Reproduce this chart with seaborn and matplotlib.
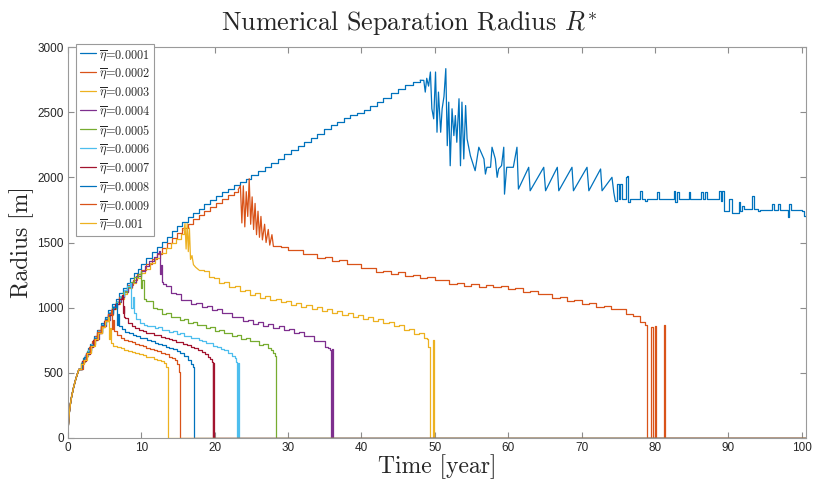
import matplotlib
matplotlib.use("Agg")
import numpy as np
import matplotlib.pyplot as plt
import seaborn as sns

# Separation radius R* (m) against time (years), one series per eta-bar value.
# Every series is stored as (time, radius) samples, split into pieces:
# "rise"/"fall"/"tail" pieces are stair-stepped, "spikes" pieces are drawn point to point.
eta_labels = ["0.0001", "0.0002", "0.0003", "0.0004", "0.0005",
              "0.0006", "0.0007", "0.0008", "0.0009", "0.001"]

line_colors = ["#0072BD", "#D95319", "#EDB120", "#7E2F8E", "#77AC30",
               "#4DBEEE", "#A2142F", "#0072BD", "#D95319", "#EDB120"]

# common initial growth shared by all runs
start_pts = [(0, 0), (0.02, 55), (0.05, 95), (0.1, 140), (0.2, 205), (0.35, 270), (0.5, 320),
             (0.75, 385), (1.0, 440), (1.25, 487), (1.5, 527)]

eta_0001_rise = [
    (1.5, 527), (1.8, 575), (2.1, 615), (2.4, 655), (2.7, 690), (3.0, 725), (3.5, 780), (4.0, 830),
    (4.5, 880), (5.0, 930), (5.5, 980), (6.0, 1025), (6.5, 1070), (7.0, 1110), (7.5, 1150),
    (8.0, 1190), (8.5, 1230), (9.0, 1265), (9.5, 1300), (10.0, 1335), (10.7, 1380), (11.4, 1425),
    (12.1, 1465), (12.8, 1505), (13.5, 1545), (14.2, 1585), (14.9, 1625), (15.6, 1660), (16.3, 1695),
    (17.0, 1725), (17.8, 1760), (18.6, 1795), (19.4, 1825), (20.2, 1855), (21.0, 1885), (21.8, 1910),
    (22.6, 1940), (23.4, 1965), (24.2, 1990), (25.0, 2020), (25.9, 2050), (26.8, 2080), (27.7, 2110),
    (28.6, 2140), (29.5, 2180), (30.4, 2210), (31.3, 2240), (32.2, 2270), (33.1, 2300), (34.0, 2335),
    (34.9, 2370), (35.8, 2400), (36.7, 2428), (37.6, 2455), (38.5, 2480), (39.4, 2495), (40.3, 2515),
    (41.2, 2545), (42.1, 2580), (43.0, 2612), (44.0, 2645), (45.0, 2680), (46.0, 2705), (47.0, 2730),
    (48.0, 2745),
]
eta_0001_spikes = [
    (48.0, 2745), (48.5, 2744), (48.7, 2654), (48.9, 2760), (49.15, 2700), (49.4, 2808), (49.6, 2526),
    (49.85, 2449), (50.1, 2808), (50.3, 2346), (50.5, 2654), (50.8, 2346), (51.0, 2526), (51.25, 2620),
    (51.5, 2834), (51.7, 2243), (51.9, 2577), (52.1, 2089), (52.35, 2526), (52.6, 2320), (52.8, 2474),
    (53.0, 2269), (53.3, 2603), (53.5, 2089), (53.7, 2577), (53.95, 2141), (54.2, 2551), (54.4, 2295),
    (54.85, 2166), (55.5, 2051), (56.0, 2231), (56.4, 2180), (56.7, 2141), (56.9, 2025), (57.1, 2077),
    (57.6, 2077), (57.8, 2231), (58.25, 2141), (58.5, 2000), (58.7, 2064), (59.1, 2090), (59.4, 2231),
    (59.5, 1871), (59.8, 2077), (60.7, 2077), (61.2, 2231), (61.4, 1910),
    (62.8, 2077), (63.0, 1897), (64.85, 2077), (65.1, 1897), (66.7, 2077), (66.9, 1897), (68.7, 2077),
    (68.9, 1897), (70.75, 2077), (71.0, 1897), (72.6, 2064), (72.8, 1897), (74.15, 2000), (74.4, 1884),
    (74.6, 1820),
]
eta_0001_tail = [
    (74.6, 1820), (74.8, 1948), (75.05, 1833), (75.3, 1948), (75.5, 1833), (76.0, 2000), (76.2, 2013),
    (76.4, 1807), (76.65, 1833), (78.0, 1897), (78.25, 1833), (78.7, 1820), (78.9, 1833), (80.3, 1884),
    (80.5, 1833), (82.55, 1897), (82.8, 1807), (83.0, 1884), (83.25, 1833), (84.6, 1890), (84.8, 1833),
    (86.3, 1890), (86.5, 1833), (86.9, 1890), (87.1, 1833), (88.8, 1897), (89.0, 1820), (89.2, 1897),
    (89.45, 1743), (90.05, 1833), (90.5, 1730), (91.4, 1807), (91.6, 1743), (91.85, 1782),
    (92.1, 1760), (93.2, 1858), (93.45, 1756), (94.1, 1743), (94.35, 1750), (95.95, 1795),
    (96.2, 1750), (96.85, 1795), (97.1, 1750), (98.1, 1692), (98.3, 1795), (98.5, 1750),
    (100.0, 1740), (100.35, 1704), (100.6, 1704),
]

eta_0002_rise = [
    (1.5, 527), (1.85, 580), (2.2, 622), (2.55, 660), (2.9, 700), (3.3, 742), (3.7, 785), (4.1, 825),
    (4.5, 862), (5.0, 910), (5.5, 955), (6.0, 1000), (6.5, 1045), (7.0, 1085), (7.6, 1130),
    (8.2, 1175), (8.8, 1215), (9.4, 1255), (10.0, 1290), (10.7, 1335), (11.4, 1375), (12.1, 1415),
    (12.8, 1455), (13.5, 1495), (14.2, 1535), (14.9, 1570), (15.6, 1608), (16.3, 1645), (17.0, 1678),
    (17.8, 1712), (18.6, 1745), (19.4, 1775), (20.2, 1805), (21.0, 1835), (21.8, 1862), (22.6, 1888),
    (23.2, 1905),
]
eta_0002_spikes = [
    (23.2, 1905), (23.5, 1935), (23.7, 1650), (23.9, 1935), (24.1, 1620), (24.3, 1890), (24.5, 1700),
    (24.7, 1990), (24.9, 1640), (25.1, 1850), (25.3, 1600), (25.5, 1800), (25.7, 1560), (25.9, 1740),
    (26.1, 1540), (26.3, 1700), (26.5, 1520), (26.8, 1640), (27.0, 1500), (27.3, 1600), (27.5, 1480),
    (27.8, 1560), (28.0, 1470),
]
eta_0002_fall = [
    (28.0, 1470), (29, 1466), (30, 1440), (31, 1443), (32, 1410), (33, 1410), (34, 1382), (35, 1386),
    (36, 1358), (37, 1364), (38, 1336), (39, 1334), (40, 1302), (41, 1304), (42, 1276), (43, 1284),
    (44, 1262), (45, 1270), (46, 1244), (47, 1252), (48, 1230), (49, 1238), (50, 1210), (51, 1210),
    (52, 1182), (53, 1192), (54, 1170), (55, 1182), (56, 1162), (57, 1175), (58, 1156), (59, 1166),
    (60, 1142), (61, 1148), (62, 1122), (63, 1128), (64, 1102), (65, 1106), (66, 1078), (67, 1081),
    (68, 1052), (69, 1056), (70, 1027), (71, 1032), (72, 1005), (73, 1014), (74, 992), (75, 993),
    (76, 952), (77, 938), (78, 887), (78.6, 870),
    (78.9, 0), (79.5, 855), (79.8, 0), (80.0, 860), (80.2, 0), (81.3, 865), (81.4, 0), (100.6, 0),
]

eta_0003_rise = [
    (1.5, 527), (1.9, 585), (2.3, 632), (2.7, 672), (3.1, 708), (3.6, 755), (4.1, 803), (4.6, 851),
    (5.1, 898), (5.6, 943), (6.1, 988), (6.6, 1030), (7.1, 1070), (7.6, 1108), (8.1, 1150),
    (8.7, 1190), (9.3, 1228), (9.9, 1265), (10.5, 1300), (11.2, 1340), (11.9, 1380), (12.6, 1420),
    (13.3, 1458), (14.0, 1495), (14.7, 1530), (15.4, 1565), (15.8, 1590),
]
eta_0003_spikes = [
    (15.8, 1590), (15.95, 1645), (16.1, 1450), (16.25, 1645), (16.4, 1430), (16.55, 1610),
    (16.7, 1370), (16.9, 1400), (17.1, 1330), (17.4, 1310), (17.85, 1289),
]
eta_0003_fall = [
    (17.85, 1289), (18.5, 1280), (19.2, 1235), (19.9, 1230), (20.6, 1190), (21.3, 1195), (22.0, 1160),
    (22.7, 1165), (23.4, 1130), (24.1, 1135), (24.8, 1100), (25.5, 1110), (26.2, 1078), (26.9, 1086),
    (27.6, 1056), (28.3, 1068), (29.0, 1040), (29.7, 1052), (30.4, 1023), (31.1, 1035), (31.8, 1008),
    (32.5, 1020), (33.2, 993), (33.9, 1006), (34.6, 978), (35.3, 990), (36.0, 962), (36.7, 974),
    (37.4, 947), (38.1, 959), (38.8, 931), (39.5, 943), (40.2, 915), (40.9, 927), (41.6, 899),
    (42.3, 910), (43.0, 882), (43.7, 890), (44.4, 858), (45.1, 864), (45.8, 830), (46.5, 835),
    (47.2, 800), (47.9, 802), (48.5, 765), (48.9, 760), (49.1, 700),
    (49.3, 0), (49.8, 752), (49.9, 0), (100.6, 0),
]

eta_0004 = [
    (1.5, 527), (1.95, 590), (2.35, 638), (2.75, 678), (3.2, 718), (3.7, 760), (4.2, 808), (4.7, 857),
    (5.2, 905), (5.7, 950), (6.2, 997), (6.7, 1040), (7.2, 1080), (7.7, 1120), (8.2, 1160),
    (8.7, 1198), (9.3, 1240), (9.9, 1282), (10.5, 1320), (11.1, 1356), (11.7, 1392), (12.2, 1420),
    (12.4, 1432),
    (12.5, 1260), (12.65, 1330), (12.8, 1200), (13.0, 1185),
    (13.3, 1170), (14.0, 1115), (14.7, 1105), (15.4, 1058), (16.1, 1060), (16.8, 1028), (17.5, 1037),
    (18.2, 1006), (18.9, 1013), (19.6, 982), (20.3, 990), (21.0, 956), (21.7, 962), (22.4, 925),
    (23.1, 930), (23.8, 897), (24.5, 905), (25.2, 876), (25.9, 887), (26.6, 859), (27.3, 872),
    (28.0, 844), (28.7, 856), (29.4, 828), (30.1, 838), (30.8, 808), (31.5, 816), (32.2, 783),
    (32.9, 785), (33.6, 745), (34.3, 743), (35.0, 700), (35.5, 690), (35.75, 675),
    (35.8, 0), (36.05, 680), (36.1, 0), (100.6, 0),
]

eta_0005 = [
    (1.5, 527), (1.8, 572), (2.2, 625), (2.6, 665), (3.05, 708), (3.55, 760), (4.05, 811), (4.55, 860),
    (5.05, 908), (5.55, 953), (6.05, 998), (6.55, 1042), (7.05, 1083), (7.55, 1123), (8.05, 1162),
    (8.55, 1198), (9.05, 1232), (9.5, 1262), (9.9, 1280),
    (10.0, 1150), (10.15, 1210), (10.3, 1070), (10.6, 1050),
    (11.0, 1048), (11.6, 997), (12.2, 988), (12.8, 954), (13.4, 956), (14.0, 927), (14.6, 930),
    (15.2, 904), (15.8, 910), (16.4, 884), (17.0, 890), (17.6, 864), (18.2, 870), (18.8, 844),
    (19.4, 849), (20.0, 822), (20.6, 828), (21.2, 802), (21.8, 808), (22.4, 782), (23.0, 788),
    (23.6, 762), (24.2, 768), (24.8, 742), (25.4, 746), (26.0, 717), (26.6, 720), (27.2, 687),
    (27.7, 675), (28.0, 650), (28.2, 630),
    (28.3, 0), (100.6, 0),
]

eta_0006 = [
    (1.5, 527), (1.9, 590), (2.3, 636), (2.7, 675), (3.15, 722), (3.65, 774), (4.15, 824), (4.65, 873),
    (5.15, 920), (5.65, 965), (6.15, 1010), (6.65, 1053), (7.15, 1093), (7.65, 1132), (8.1, 1165),
    (8.5, 1190),
    (8.65, 1000), (8.8, 1080), (8.95, 960),
    (9.3, 910), (9.8, 880), (10.3, 870), (10.8, 858), (11.3, 862), (11.8, 843), (12.3, 848),
    (12.8, 830), (13.3, 832), (13.8, 815), (14.3, 818), (14.8, 800), (15.3, 803), (15.8, 785),
    (16.3, 786), (16.8, 768), (17.3, 770), (17.8, 750), (18.3, 748), (18.8, 728), (19.3, 726),
    (19.8, 708), (20.3, 700), (20.8, 685), (21.3, 672), (21.8, 655), (22.3, 632), (22.7, 610),
    (22.95, 585),
    (23.1, 0), (23.2, 575), (23.25, 0), (100.6, 0),
]

eta_0007 = [
    (1.5, 527), (1.95, 590), (2.45, 646), (2.95, 700), (3.45, 753), (3.95, 803), (4.45, 851),
    (4.95, 898), (5.45, 944), (5.95, 988), (6.45, 1030), (6.95, 1070), (7.3, 1095),
    (7.45, 960), (7.6, 1010), (7.7, 930),
    (7.8, 920), (8.2, 880), (8.7, 858), (9.2, 845), (9.7, 830), (10.2, 822), (10.7, 808), (11.2, 805),
    (11.7, 792), (12.2, 790), (12.7, 776), (13.2, 770), (13.7, 756), (14.2, 752), (14.7, 738),
    (15.2, 733), (15.7, 718), (16.2, 712), (16.7, 698), (17.2, 690), (17.7, 672), (18.2, 660),
    (18.7, 642), (19.1, 625), (19.4, 605), (19.6, 585),
    (19.7, 0), (19.8, 575), (19.85, 0), (100.6, 0),
]

eta_0008 = [
    (1.5, 527), (1.85, 580), (2.2, 625), (2.58, 660), (3.08, 715), (3.58, 767), (4.08, 817),
    (4.58, 865), (5.08, 912), (5.58, 958), (6.08, 1002), (6.5, 1035),
    (6.65, 870), (6.8, 950), (6.95, 860),
    (7.3, 835), (7.8, 815), (8.3, 805), (8.8, 790), (9.3, 785), (9.8, 770), (10.3, 765), (10.8, 750),
    (11.3, 745), (11.8, 730), (12.3, 725), (12.8, 710), (13.3, 700), (13.8, 688), (14.3, 680),
    (14.8, 665), (15.3, 650), (15.8, 628), (16.3, 600), (16.7, 570), (17.0, 545),
    (17.15, 0), (100.6, 0),
]

eta_0009 = [
    (1.5, 527), (2.02, 596), (2.52, 654), (3.02, 708), (3.52, 760), (4.02, 810), (4.52, 859),
    (5.02, 906), (5.5, 950), (5.8, 982),
    (5.95, 840), (6.1, 905), (6.25, 820),
    (6.7, 790), (7.2, 768), (7.7, 755), (8.2, 745), (8.7, 735), (9.2, 725), (9.7, 712), (10.2, 705),
    (10.7, 692), (11.2, 686), (11.7, 672), (12.2, 665), (12.7, 650), (13.2, 642), (13.7, 625),
    (14.2, 612), (14.6, 595), (14.9, 565), (15.1, 510),
    (15.25, 0), (100.6, 0),
]

eta_001 = [
    (1.5, 527), (1.8, 570), (2.12, 600), (2.62, 652), (3.12, 706), (3.62, 757), (4.12, 805),
    (4.62, 852), (5.1, 895), (5.4, 930),
    (5.55, 760), (5.7, 845), (5.85, 730),
    (6.2, 705), (6.7, 695), (7.2, 688), (7.7, 675), (8.2, 668), (8.7, 660), (9.2, 652), (9.7, 642),
    (10.2, 636), (10.7, 625), (11.2, 620), (11.7, 608), (12.2, 600), (12.7, 588), (13.1, 575),
    (13.4, 545),
    (13.65, 0), (100.6, 0),
]

STEP, LINE = "steps-post", "default"
curve_pieces = [
    [(start_pts, LINE), (eta_0001_rise, STEP), (eta_0001_spikes, LINE), (eta_0001_tail, STEP)],
    [(start_pts, LINE), (eta_0002_rise, STEP), (eta_0002_spikes, LINE), (eta_0002_fall, STEP)],
    [(start_pts, LINE), (eta_0003_rise, STEP), (eta_0003_spikes, LINE), (eta_0003_fall, STEP)],
    [(start_pts, LINE), (eta_0004, STEP)],
    [(start_pts, LINE), (eta_0005, STEP)],
    [(start_pts, LINE), (eta_0006, STEP)],
    [(start_pts, LINE), (eta_0007, STEP)],
    [(start_pts, LINE), (eta_0008, STEP)],
    [(start_pts, LINE), (eta_0009, STEP)],
    [(start_pts, LINE), (eta_001, STEP)],
]

x_ticks = [0, 10, 20, 30, 40, 50, 60, 70, 80, 90, 100]
y_ticks = [0, 500, 1000, 1500, 2000, 2500, 3000]

sns.set_style("white")
plt.rcParams.update({"mathtext.fontset": "cm", "axes.unicode_minus": False})

W, H = 817, 484
fig = plt.figure(figsize=(W / 100, H / 100), dpi=100)
ax_l, ax_r, ax_t, ax_b = 68, 806, 47, 438
ax = fig.add_axes([ax_l / W, 1 - ax_b / H, (ax_r - ax_l) / W, (ax_b - ax_t) / H])

legend_handles = []
for lbl, pieces, col in zip(eta_labels, curve_pieces, line_colors):
    for k, (pts, style) in enumerate(pieces):
        arr = np.array(pts, dtype=float)
        n_before = len(ax.lines)
        sns.lineplot(x=arr[:, 0], y=arr[:, 1], ax=ax, color=col, lw=0.9,
                     drawstyle=style, estimator=None, sort=False, legend=False)
        if k == 0:
            ln = ax.lines[n_before]
            ln.set_label(r"$\overline{\eta}$=" + lbl)
            legend_handles.append(ln)

ax.set_xlim(0, 100.6)
ax.set_ylim(0, 3000)
ax.set_xticks(x_ticks)
ax.set_yticks(y_ticks)
ax.set_xticklabels([str(v) for v in x_ticks], family="Liberation Sans", fontsize=8.5)
ax.set_yticklabels([str(v) for v in y_ticks], family="Liberation Sans", fontsize=8.5)
ax.tick_params(direction="in", length=4.5, width=0.8, colors="#8c8c8c",
               labelcolor="#262626", top=True, right=True, bottom=True, left=True, pad=3)
for sp in ax.spines.values():
    sp.set_visible(True)
    sp.set_color("#9a9a9a")
    sp.set_linewidth(0.8)

ax.set_xlabel("Time [year]", family="cmr10", fontsize=17, va="center")
ax.xaxis.set_label_coords(0.5, (ax_b - 467) / (ax_b - ax_t))
ax.set_ylabel("Radius [m]", family="cmr10", fontsize=17, va="center")
ax.yaxis.set_label_coords((22 - ax_l) / (ax_r - ax_l), 0.5)

fig.text(409 / W, 1 - 23 / H, r"Numerical Separation Radius $R^{*}$", family="cmr10",
         fontsize=18.8, ha="center", va="center")

leg = ax.legend(legend_handles, [h.get_label() for h in legend_handles], loc="upper left",
                bbox_to_anchor=(76 / W, 1 - 44 / H), bbox_transform=fig.transFigure,
                borderaxespad=0, prop={"family": "cmr10", "size": 8.8},
                handlelength=1.3, handletextpad=0.25, labelspacing=0.32,
                borderpad=0.3, fancybox=False, framealpha=1, edgecolor="#9a9a9a")
leg.get_frame().set_linewidth(0.8)

fig.savefig("out.png", dpi=100)
